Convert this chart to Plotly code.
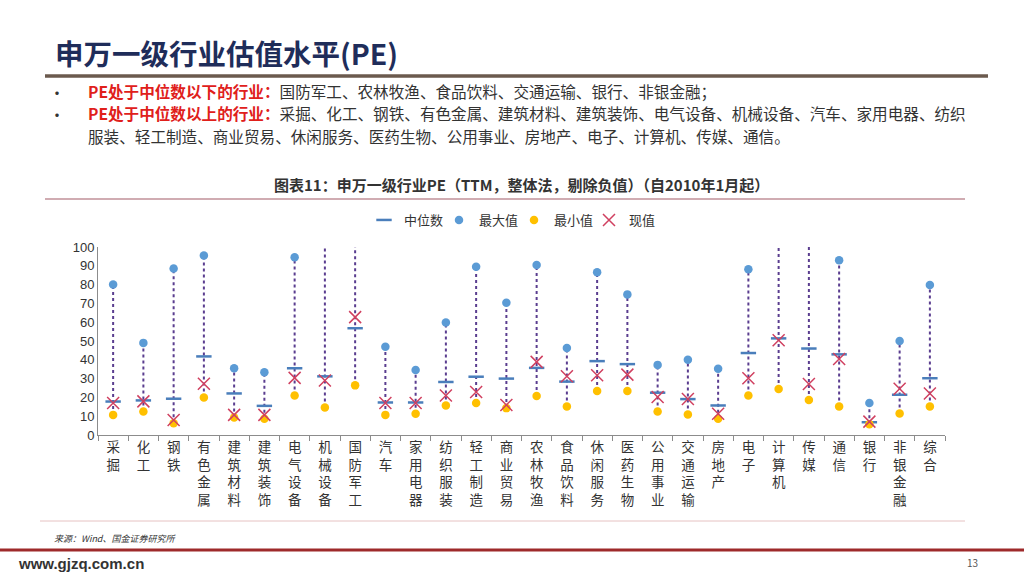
import plotly.graph_objects as go

categories = ["采掘", "化工", "钢铁", "有色金属", "建筑材料", "建筑装饰", "电气设备", "机械设备",
              "国防军工", "汽车", "家用电器", "纺织服装", "轻工制造", "商业贸易", "农林牧渔", "食品饮料",
              "休闲服务", "医药生物", "公用事业", "交通运输", "房地产", "电子", "计算机", "传媒",
              "通信", "银行", "非银金融", "综合"]
pe_max = [80, 49, 88.6, 95.5, 35.5, 33.4, 94.6, 130, 150, 47, 34.6, 59.8, 89.5, 70.4, 90.4, 46.3,
          86.6, 74.8, 37.3, 40, 35.2, 88.2, 170, 160, 93, 17, 50, 79.8]
pe_median = [17.8, 18.4, 19.3, 41.8, 22.1, 15.5, 35.5, 31.2, 56.8, 17.3, 17.3, 28.2, 31, 30, 35.7, 28.4,
             39.3, 37.7, 22.5, 19.1, 15.7, 43.6, 51.4, 46, 42.9, 6.8, 21.4, 30.2]
pe_min = [10.7, 12.5, 6.3, 20, 9.3, 8.6, 21, 14.6, 26.4, 10.7, 11.3, 15.7, 17, 14.3, 20.7, 15.2,
          23.4, 23.4, 12.5, 10.9, 8.6, 21, 24.5, 18.6, 15.2, 5.7, 11.4, 15.2]
pe_now = [17, 17.9, 8, 27.3, 10.7, 10.7, 30.4, 29, 62.7, 17, 17, 21, 22.9, 16, 38.9, 31.2,
          31.8, 32.1, 20.2, 19.1, 11.3, 30.2, 50.4, 27.1, 40.4, 7.1, 24.6, 22.1]

# plot area in page pixels
L, R, T, B = 98, 945, 247, 435
W, H = 1024, 576


def px(x):
    return (x - L) / (R - L)


def py(y):
    return (B - y) / (B - T)


FONT = "Noto Sans CJK SC"
labels = ["<br>".join(list(c)) for c in categories]

# dotted range lines
lx, ly = [], []
for c, lo, hi in zip(labels, pe_min, pe_max):
    lx += [c, c, None]
    ly += [lo, hi, None]

fig = go.Figure()
fig.add_trace(go.Scatter(x=lx, y=ly, mode="lines", showlegend=False, hoverinfo="skip",
                         line=dict(color="#5a3d8f", width=2, dash="dot")))
fig.add_trace(go.Scatter(x=labels, y=pe_median, mode="markers", name="中位数",
                         marker=dict(symbol="line-ew", size=11, color="#4a7ebb",
                                     line=dict(color="#4a7ebb", width=2.5))))
fig.add_trace(go.Scatter(x=labels, y=pe_max, mode="markers", name="最大值",
                         marker=dict(symbol="circle", size=8.5, color="#5b9bd5")))
fig.add_trace(go.Scatter(x=labels, y=pe_min, mode="markers", name="最小值",
                         marker=dict(symbol="circle", size=8.5, color="#ffc000")))
fig.add_trace(go.Scatter(x=labels, y=pe_now, mode="markers", name="现值",
                         marker=dict(symbol="x-thin", size=12, color="#d04060",
                                     line=dict(color="#d04060", width=1.5))))

fig.update_layout(
    width=W, height=H,
    margin=dict(l=L, r=W - R, t=T, b=H - B, autoexpand=False),
    paper_bgcolor="white", plot_bgcolor="white",
    font=dict(family=FONT, color="#333333"),
    legend=dict(orientation="h", x=px(514), y=py(220), xanchor="center", yanchor="middle",
                font=dict(size=13, color="#333333"), itemwidth=30,
                entrywidth=30, entrywidthmode="pixels"),
    xaxis=dict(type="category", range=[-0.5, len(categories) - 0.5], showgrid=False,
               showline=True, linecolor="#8c8c8c",
               ticks="outside", tickson="boundaries", ticklen=5, tickcolor="#8c8c8c",
               tickfont=dict(size=13.5, family=FONT, color="#333333"), tickangle=0, automargin=False),
    yaxis=dict(range=[0, 100], dtick=10, showgrid=False, showline=True, linecolor="#8c8c8c",
               zeroline=False, ticks="", automargin=False,
               tickfont=dict(size=13, family="Liberation Sans", color="#333333")),
)

# slide decorations
shapes = [
    dict(type="line", x0=px(45), x1=px(988), y0=py(76), y1=py(76), line=dict(color="#6b5a4e", width=3.5)),
    dict(type="line", x0=px(45), x1=px(965), y0=py(199), y1=py(199), line=dict(color="#c09098", width=1.5)),
    dict(type="line", x0=px(40), x1=px(965), y0=py(521), y1=py(521), line=dict(color="#e6c2c2", width=1)),
    dict(type="line", x0=px(0), x1=px(1024), y0=py(550), y1=py(550), line=dict(color="#9e2a2b", width=3)),
]
for s in shapes:
    s.update(xref="paper", yref="paper")
fig.update_layout(shapes=shapes)


def note(x, y, text, size, color="#333333", xanchor="left", family=FONT):
    fig.add_annotation(x=px(x), y=py(y), xref="paper", yref="paper", text=text, showarrow=False,
                       xanchor=xanchor, yanchor="middle", align="left",
                       font=dict(size=size, color=color, family=family))


note(53, 52, "<b>申万一级行业估值水平(PE)</b>", 28.5, color="#1f2d5a")
note(47, 92, "•", 16)
note(47, 114, "•", 16)
red = "#e0201b"
note(86, 91, "<b><span style='color:%s'>PE处于中位数以下的行业：</span></b>"
     "国防军工、农林牧渔、食品饮料、交通运输、银行、非银金融；" % red, 15.6)
note(86, 113, "<b><span style='color:%s'>PE处于中位数以上的行业：</span></b>"
     "采掘、化工、钢铁、有色金属、建筑材料、建筑装饰、电气设备、机械设备、汽车、家用电器、纺织" % red, 15.6)
note(86, 136, "服装、轻工制造、商业贸易、休闲服务、医药生物、公用事业、房地产、电子、计算机、传媒、通信。", 15.6)
note(521, 184, "<b>图表11：申万一级行业PE（TTM，整体法，剔除负值）（自2010年1月起）</b>", 15, xanchor="center")
note(52, 538, "<i>来源：Wind、国金证券研究所</i>", 9)
note(16, 563, "<b>www.gjzq.com.cn</b>", 15, family="Liberation Sans")
note(965, 562, "13", 10, color="#555555")

fig.write_html("out.html", config={"displayModeBar": False},
               post_script="document.body.style.margin='0';")
